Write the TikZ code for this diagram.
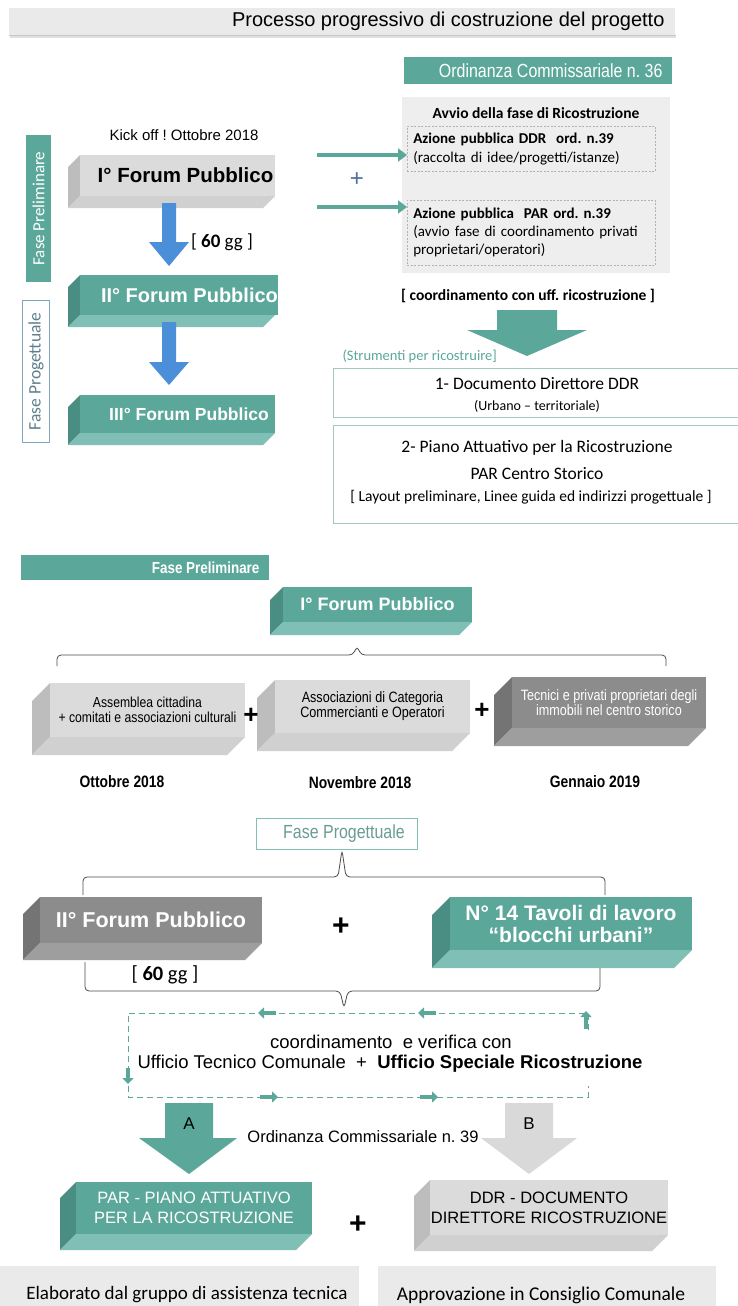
\documentclass[tikz,border=0pt]{standalone}
\usepackage{fontspec}
\setmainfont{Liberation Sans}
\newfontfamily\cali[Ligatures=TeX]{Carlito}
\newfontfamily\narrow[FakeStretch=0.84]{Liberation Sans}
\usetikzlibrary{arrows.meta,calc}

\definecolor{tealF}{HTML}{5BA89B}
\definecolor{tealS}{HTML}{4A8D82}
\definecolor{tealB}{HTML}{80BFB5}
\definecolor{lgF}{HTML}{DBDBDB}
\definecolor{lgS}{HTML}{BDBDBD}
\definecolor{lgB}{HTML}{D0D0D0}
\definecolor{dgF}{HTML}{8C8C8C}
\definecolor{dgS}{HTML}{747474}
\definecolor{dgB}{HTML}{9E9E9E}
\definecolor{blueA}{HTML}{4A8FD8}
\definecolor{boxgray}{HTML}{EEEEEE}
\definecolor{outl}{HTML}{A3C8C3}
\definecolor{plusblue}{HTML}{4F6F9A}
\definecolor{progtxt}{HTML}{5E7F8E}
\definecolor{progbox}{HTML}{7FA6C0}
\definecolor{bargray}{HTML}{EAEAEA}
\definecolor{progteal}{HTML}{6A9C94}

\newcommand\fsz[2]{\fontsize{#1}{#2}\selectfont}

% 3D block: name, x1, y1, x2, y2, depth, scheme, text style, text
\newcommand\blk[9]{%
  \fill[#7S] (#2,#3) -- (#2-#6,#3+#6) -- (#2-#6,#5+#6) -- (#2,#5) -- cycle;
  \fill[#7B] (#2,#5) -- (#4,#5) -- (#4-#6,#5+#6) -- (#2-#6,#5+#6) -- cycle;
  \node[fill=#7F, anchor=north west, inner sep=0pt, outer sep=0pt,
        minimum width={(#4-#2)*1pt}, minimum height={(#5-#3)*1pt},
        align=center, #8] (#1) at (#2,#3) {#9};
}

\tikzset{
  tealarrow/.style={draw=tealF, line width=4pt, -{Triangle[length=9pt,width=13pt]}},
  smallarr/.style={draw=tealF, line width=3.5pt, -{Triangle[length=6pt,width=11pt]}},
  dashbox/.style={draw=black!30, dashed, dash pattern=on 2pt off 1.5pt, line width=0.6pt},
  bracel/.style={draw=black!70, line width=0.8pt, rounded corners=4pt},
  outlbox/.style={draw=outl, line width=1pt, inner sep=0pt},
}

\begin{document}
\frenchspacing
\begin{tikzpicture}[x=1pt,y=-1pt]
\useasboundingbox (0,0) rectangle (737,1306);
\fill[white] (0,0) rectangle (737,1306);

% ---------- Title ----------
\fill[black!12] (10,34) rectangle (676,38);
\fill[black!22] (9,34) rectangle (675,36);
\node[fill=bargray, anchor=north west, minimum width=666pt, minimum height=27pt,
      inner sep=0pt] (titlebar) at (9,8) {};
\node[anchor=east, font=\fsz{20}{22}] (title) at (668,21.5)
  {Processo progressivo di costruzione del progetto};

% ---------- Section 1 right ----------
\node[fill=tealF, anchor=north west, minimum width=268pt, minimum height=27pt,
      inner sep=0pt] (ord36) at (404,57) {};
\node[anchor=east, text=white, font=\narrow\fsz{19}{21}] (ord36t) at (666,70.5)
  {Ordinanza Commissariale n. 36};

\node[fill=boxgray, anchor=north west, minimum width=268pt, minimum height=176pt,
      inner sep=0pt] (avvio) at (402,97) {};
\node[font=\cali\bfseries\fsz{15.5}{18}] (avviot) at (536,113)
  {Avvio della fase di Ricostruzione};

\node[dashbox, anchor=north west, minimum width=248pt, minimum height=45pt,
      text width=236pt, inner xsep=6pt, inner ysep=0pt, align=left,
      font=\cali\fsz{15}{19}] (ddr) at (407,126)
  {\textbf{Azione pubblica DDR\ \ ord. n.39}\\(raccolta di idee/progetti/istanze)};
\node[dashbox, anchor=north west, minimum width=248pt, minimum height=65pt,
      text width=236pt, inner xsep=6pt, inner ysep=0pt, align=left,
      font=\cali\fsz{15}{18}] (par) at (407,200)
  {\textbf{Azione pubblica\ \ PAR ord. n.39}\\(avvio fase di coordinamento privati\\proprietari/operatori)};

\coordinate (a1) at (317,155);
\coordinate (a2) at (317,207);
\draw[tealarrow] (a1) -- (a1 -| ddr.west);
\draw[tealarrow] (a2) -- (a2 -| par.west);
\node[text=plusblue, font=\fsz{24}{26}] (plus0) at (357,180) {+};

\node[font=\cali\bfseries\fsz{15.5}{18}] (coord) at (528,296)
  {[ coordinamento con uff. ricostruzione ]};
\fill[tealF] (497,310) -- (557,310) -- (557,330) -- (587,330) -- (527,356)
  -- (467,330) -- (497,330) -- cycle;

\node[anchor=west, text=tealF, font=\cali\fsz{14.5}{16}] (strum) at (339,356)
  {(Strumenti per ricostruire]};
\node[outlbox, anchor=north west, minimum width=410pt, minimum height=49pt] (sb1)
  at (333,368) {};
\node[font=\cali\fsz{17.5}{20}] (sb1a) at (537,384) {1- Documento Direttore DDR};
\node[font=\cali\fsz{14}{16}] (sb1b) at (537,406) {(Urbano – territoriale)};
\node[outlbox, anchor=north west, minimum width=410pt, minimum height=98pt] (sb2)
  at (333,424.5) {};
\node[font=\cali\fsz{17.5}{20}] (sb2a) at (537,448) {2- Piano Attuativo per la Ricostruzione};
\node[font=\cali\fsz{17.5}{20}] (sb2b) at (537,474) {PAR Centro Storico};
\node[font=\cali\fsz{15.5}{17}] (sb2c) at (531,497)
  {[ Layout preliminare, Linee guida ed indirizzi progettuale ]};

% ---------- Section 1 left ----------
\node[fill=tealF, rotate=90, minimum width=147pt, minimum height=25pt, inner sep=0pt,
      text=white, font=\cali\fsz{17}{19}] (vfp) at (38.5,208.5) {Fase Preliminare};
\node[draw=progbox, line width=0.8pt, rotate=90, minimum width=142pt, minimum height=27pt,
      inner sep=0pt, text=progtxt, font=\cali\fsz{17.5}{19}] (vfprog) at (36,371.5)
  {Fase Progettuale};

\node[font=\fsz{15}{17}] (kick) at (184,135) {Kick off ! Ottobre 2018};

\blk{f1}{80}{155}{275}{196}{12}{lg}{font=\bfseries\fsz{20.5}{23}}{\hspace*{16pt}I° Forum Pubblico}
\blk{f2}{80}{275}{275}{315}{12}{teal}{text=white,font=\bfseries\fsz{20}{23}}{\hspace*{21pt}II° Forum Pubblico}
\blk{f3}{80}{395}{275}{433}{12}{teal}{text=white,font=\bfseries\fsz{17.5}{20}}{\hspace*{23pt}III° Forum Pubblico}

\fill[blueA] (162,203) -- (176,203) -- (176,242) -- (189,242) -- (169,266)
  -- (149,242) -- (162,242) -- cycle;
\fill[blueA] (162,322) -- (176,322) -- (176,362) -- (189,362) -- (169,385)
  -- (149,362) -- (162,362) -- cycle;
\node[font=\cali\fsz{19}{21}] (gg1) at (222,242) {[ \textbf{60} gg ]};

% ---------- Section 2 ----------
\node[fill=tealF, anchor=north west, minimum width=248pt, minimum height=25pt,
      inner sep=0pt] (fpbar) at (21,555) {};
\node[anchor=east, text=white, font=\narrow\bfseries\fsz{16}{18}] (fpbart) at (263,567.5)
  {Fase Preliminare};

\blk{g1}{283}{587}{472}{622}{13}{teal}{text=white,font=\bfseries\fsz{18}{20}}{I° Forum Pubblico}

\draw[bracel] (57,666) -- (57,655) -- (353,655) -- (357,646) -- (361,655)
  -- (666,655) -- (666,666);

\blk{b1}{50}{683}{245}{737}{18}{lg}{font=\narrow\fsz{14.5}{15}}{Assemblea cittadina\\+ comitati e associazioni culturali}
\blk{b2}{275}{680}{470}{733}{18}{lg}{font=\narrow\fsz{15}{15}}{Associazioni di Categoria\\Commercianti e Operatori}
\blk{b3}{512}{677}{706}{728}{18}{dg}{text=white,font=\narrow\fsz{15}{15.5}}{Tecnici e privati proprietari degli\\immobili nel centro storico}
\node[font=\bfseries\fsz{26}{28}] (plus1) at (251,716) {+};
\node[font=\bfseries\fsz{26}{28}] (plus2) at (482,711) {+};

\node[font=\narrow\bfseries\fsz{16.5}{18}] (d1) at (122,782) {Ottobre 2018};
\node[font=\narrow\bfseries\fsz{16.5}{18}] (d2) at (360,783) {Novembre 2018};
\node[font=\narrow\bfseries\fsz{16.5}{18}] (d3) at (595,782) {Gennaio 2019};

% ---------- Section 3 ----------
\node[draw=tealB, line width=0.8pt, anchor=north west, minimum width=161pt,
      minimum height=31pt, inner sep=0pt] (fprog) at (256,818) {};
\node[text=progteal, font=\narrow\fsz{19}{21}] (fprogt) at (344,834)
  {Fase Progettuale};

\draw[bracel] (83,895) -- (83,877) -- (338,877) -- (342,850) -- (346,877)
  -- (605,877) -- (605,895);
\draw[bracel] (85,962) -- (85,991) -- (340,991) -- (344,1008) -- (348,991)
  -- (600,991) -- (600,965);

\blk{h1}{40}{897}{262}{943}{17}{dg}{text=white,font=\bfseries\fsz{21.5}{24}}{II° Forum Pubblico}
\blk{h2}{450}{897}{692}{950}{18}{teal}{text=white,font=\bfseries\fsz{21}{22}}{N° 14 Tavoli di lavoro\\“blocchi urbani”}
\node[font=\bfseries\fsz{30}{32}] (plus3) at (341,927) {+};
\node[font=\cali\fsz{20.5}{23}] (gg2) at (165,975) {[ \textbf{60} gg ]};

% dashed coordination loop
\coordinate (lt) at (128,1013);
\coordinate (rt) at (588,1013);
\coordinate (lb) at (128,1097);
\coordinate (rb) at (588,1097);
\draw[tealF, line width=1pt, dash pattern=on 6pt off 4pt] (588,1030) -- (rt) -- (lt) -- (lb) -- (rb) -- (588,1086);
\draw[smallarr] (276,1013) -- (258,1013);
\draw[smallarr] (436,1013) -- (418,1013);
\draw[smallarr] (260,1097) -- (278,1097);
\draw[smallarr] (420,1097) -- (438,1097);
\draw[smallarr] (586,1029) -- (586,1011);
\draw[smallarr] (128,1068) -- (128,1084);

\node[font=\fsz{18.5}{21}] (cv1) at (391,1042) {coordinamento\ \ e verifica con};
\node[font=\fsz{18.5}{21}] (cv2) at (390,1064)
  {Ufficio Tecnico Comunale\ \ +\ \ \textbf{Ufficio Speciale Ricostruzione}};

% A / B arrows
\fill[tealF] (165,1103) -- (213,1103) -- (213,1138) -- (237,1138) -- (189,1174)
  -- (139,1138) -- (165,1138) -- cycle;
\fill[black!15] (505,1103) -- (553,1103) -- (553,1138) -- (577,1138) -- (529,1174)
  -- (481,1138) -- (505,1138) -- cycle;
\node[font=\fsz{17}{20}] (la) at (189,1124) {A};
\node[font=\fsz{17}{20}] (lbB) at (529,1124) {B};
\node[font=\fsz{16.5}{18}] (ord39) at (363,1137) {Ordinanza Commissariale n. 39};

\blk{k1}{76}{1182}{312}{1234}{16}{teal}{text=white,font=\fsz{16.5}{20}}{PAR - PIANO ATTUATIVO\\PER LA RICOSTRUZIONE}
\blk{k2}{430}{1180}{668}{1235}{16}{lg}{font=\fsz{16.5}{20}}{DDR - DOCUMENTO\\DIRETTORE RICOSTRUZIONE}
\node[font=\bfseries\fsz{30}{32}] (plus4) at (358,1225) {+};

\node[fill=bargray, anchor=north west, minimum width=359pt, minimum height=45pt,
      inner sep=0pt] (bot1) at (0,1266) {};
\node[font=\cali\fsz{19}{21}] (bot1t) at (187,1295) {Elaborato dal gruppo di assistenza tecnica};
\node[fill=bargray, anchor=north west, minimum width=338pt, minimum height=45pt,
      inner sep=0pt] (bot2) at (378,1266) {};
\node[font=\cali\fsz{19.5}{21}] (bot2t) at (541,1295) {Approvazione in Consiglio Comunale};
\end{tikzpicture}
\end{document}
